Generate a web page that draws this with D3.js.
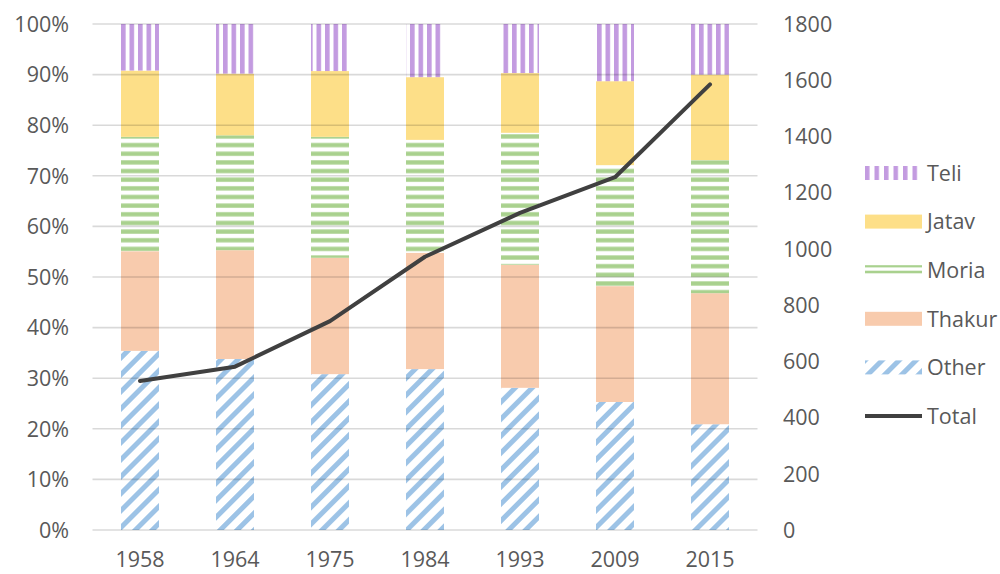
<!DOCTYPE html>
<html>
<head>
<meta charset="utf-8">
<script src="https://cdn.jsdelivr.net/npm/d3@7"></script>
<style>
  html, body { margin: 0; padding: 0; background: #fff; }
  svg text { font-family: "Open Sans", "Noto Sans", sans-serif; fill: #595959; }
</style>
</head>
<body>
<svg id="chart" width="1000" height="574"></svg>
<script>
// Census years and caste shares (percent of households), plus total count
const years  = ["1958", "1964", "1975", "1984", "1993", "2009", "2015"];
const other  = [35.4, 33.8, 30.8, 31.8, 28.1, 25.3, 20.9];
const thakur = [19.7, 21.5, 23.0, 23.0, 24.3, 22.9, 25.9];
const moria  = [22.6, 22.7, 23.9, 22.3, 26.1, 23.9, 26.3];
const jatav  = [13.1, 12.2, 13.0, 12.4, 11.8, 16.6, 16.9];
const teli   = [9.2, 9.8, 9.3, 10.5, 9.7, 11.3, 10.0];
const total  = [530, 581, 743, 972, 1128, 1255, 1585];
const leftTicks  = [0, 10, 20, 30, 40, 50, 60, 70, 80, 90, 100];
const rightTicks = [0, 200, 400, 600, 800, 1000, 1200, 1400, 1600, 1800];
const seriesNames = ["Other", "Thakur", "Moria", "Jatav", "Teli"];

const FONT = 21.5;
const svg = d3.select("#chart");
const plot = { left: 92.5, right: 757.5, top: 24, bottom: 530 };

const x = d3.scaleBand().domain(years).range([plot.left, plot.right])
  .paddingInner(0.6).paddingOuter(0.3);
const yPct = d3.scaleLinear().domain([0, 100]).range([plot.bottom, plot.top]);
const yTot = d3.scaleLinear().domain([0, 1800]).range([plot.bottom, plot.top]);

// Fill patterns for the striped series
const defs = svg.append("defs");
const barStart = x(years[0]);

const pTeli = defs.append("pattern").attr("id", "pat-teli")
  .attr("patternUnits", "userSpaceOnUse").attr("x", barStart).attr("y", 0)
  .attr("width", 8.5).attr("height", 10);
pTeli.append("rect").attr("width", 8.5).attr("height", 10).attr("fill", "#fff");
pTeli.append("rect").attr("width", 4.6).attr("height", 10).attr("fill", "#C39BE0");

const pMoria = defs.append("pattern").attr("id", "pat-moria")
  .attr("patternUnits", "userSpaceOnUse").attr("x", 0).attr("y", plot.bottom)
  .attr("width", 10).attr("height", 8.65);
pMoria.append("rect").attr("width", 10).attr("height", 8.65).attr("fill", "#fff");
pMoria.append("rect").attr("y", 2.2).attr("width", 10).attr("height", 4.3).attr("fill", "#A9D18E");

const pOther = defs.append("pattern").attr("id", "pat-other")
  .attr("patternUnits", "userSpaceOnUse").attr("x", 0).attr("y", 0)
  .attr("width", 12).attr("height", 12)
  .attr("patternTransform", "rotate(45)");
pOther.append("rect").attr("width", 12).attr("height", 12).attr("fill", "#fff");
pOther.append("rect").attr("width", 5).attr("height", 12).attr("fill", "#9DC3E6");

const fills = {
  Other: "url(#pat-other)",
  Thakur: "#F8CBAD",
  Moria: "url(#pat-moria)",
  Jatav: "#FDDF88",
  Teli: "url(#pat-teli)"
};

// Stack the shares
const rows = years.map((yr, i) => ({
  year: yr, Other: other[i], Thakur: thakur[i], Moria: moria[i], Jatav: jatav[i], Teli: teli[i]
}));
const stacked = d3.stack().keys(seriesNames)(rows);

const barG = svg.append("g");
stacked.forEach(layer => {
  barG.append("g").selectAll("rect").data(layer).join("rect")
    .attr("x", d => x(d.data.year))
    .attr("width", x.bandwidth())
    .attr("y", d => yPct(d[1]))
    .attr("height", d => yPct(d[0]) - yPct(d[1]))
    .attr("fill", fills[layer.key]);
});

// Gridlines drawn over the bars, semi-transparent
svg.append("g").selectAll("line").data(leftTicks).join("line")
  .attr("x1", plot.left).attr("x2", plot.right)
  .attr("y1", d => yPct(d)).attr("y2", d => yPct(d))
  .attr("stroke", "rgba(0,0,0,0.15)").attr("stroke-width", 1.6);

// Left axis labels
svg.append("g").selectAll("text").data(leftTicks).join("text")
  .attr("x", 69).attr("y", d => yPct(d)).attr("dy", "0.36em")
  .attr("text-anchor", "end").attr("font-size", FONT)
  .text(d => d + "%");

// Right axis labels
svg.append("g").selectAll("text").data(rightTicks).join("text")
  .attr("x", 783).attr("y", d => yTot(d)).attr("dy", "0.36em")
  .attr("text-anchor", "start").attr("font-size", FONT)
  .text(d => d);

// Category labels
svg.append("g").selectAll("text").data(years).join("text")
  .attr("x", d => x(d) + x.bandwidth() / 2).attr("y", 559).attr("dy", "0.36em")
  .attr("text-anchor", "middle").attr("font-size", FONT)
  .text(d => d);

// Total line on the secondary axis
const line = d3.line()
  .x((d, i) => x(years[i]) + x.bandwidth() / 2)
  .y(d => yTot(d));
svg.append("path").datum(total)
  .attr("d", line).attr("fill", "none")
  .attr("stroke", "#404040").attr("stroke-width", 4)
  .attr("stroke-linejoin", "round").attr("stroke-linecap", "round");

// Legend
const legendItems = ["Teli", "Jatav", "Moria", "Thakur", "Other", "Total"];
const legY = d3.scalePoint().domain(legendItems).range([173, 416]);
const leg = svg.append("g");
legendItems.forEach(name => {
  const cy = legY(name);
  const g = leg.append("g");
  if (name === "Total") {
    g.append("line").attr("x1", 865).attr("x2", 922).attr("y1", cy).attr("y2", cy)
      .attr("stroke", "#404040").attr("stroke-width", 4);
  } else if (name === "Moria") {
    g.append("rect").attr("x", 865).attr("y", cy - 5).attr("width", 57).attr("height", 2.2).attr("fill", "#A9D18E");
    g.append("rect").attr("x", 865).attr("y", cy + 0.5).attr("width", 57).attr("height", 2.6).attr("fill", "#A9D18E");
  } else if (name === "Teli") {
    const pt = defs.append("pattern").attr("id", "leg-teli")
      .attr("patternUnits", "userSpaceOnUse").attr("x", 865).attr("y", 0)
      .attr("width", 9.5).attr("height", 10);
    pt.append("rect").attr("width", 9.5).attr("height", 10).attr("fill", "#fff");
    pt.append("rect").attr("width", 4.5).attr("height", 10).attr("fill", "#C39BE0");
    g.append("rect").attr("x", 865).attr("y", cy - 7).attr("width", 57).attr("height", 14).attr("fill", "url(#leg-teli)");
  } else {
    g.append("rect").attr("x", 865).attr("y", cy - 7).attr("width", 57).attr("height", 14)
      .attr("fill", fills[name]);
  }
  g.append("text").attr("x", 927).attr("y", cy).attr("dy", "0.36em")
    .attr("font-size", FONT).text(name);
});
</script>
</body>
</html>
